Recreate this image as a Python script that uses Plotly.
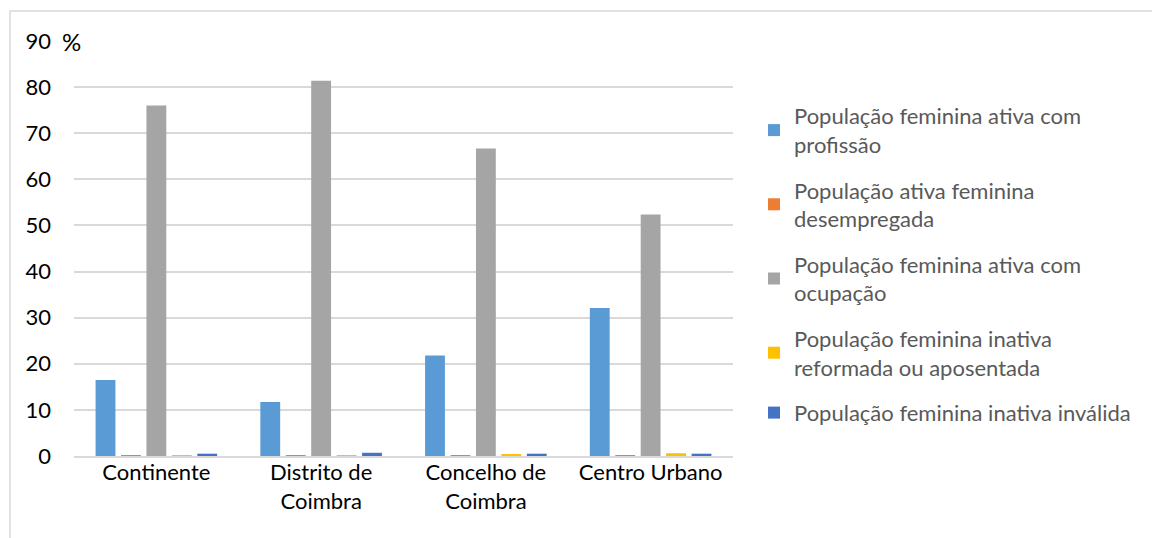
import plotly.graph_objects as go

# Categories (regions) and the share (%) of each female population group
regioes = ["Continente", "Distrito de<br>Coimbra", "Concelho de<br>Coimbra", "Centro Urbano"]

series_nomes = [
    "População feminina ativa com<br>profissão",
    "População ativa feminina<br>desempregada",
    "População feminina ativa com<br>ocupação",
    "População feminina inativa<br>reformada ou aposentada",
    "População feminina inativa inválida",
]

ativa_profissao = [16.5, 11.7, 21.8, 32.1]
ativa_desempregada = [0.05, 0.05, 0.05, 0.15]
ativa_ocupacao = [76.0, 81.4, 66.7, 52.4]
inativa_reformada = [0.15, 0.15, 0.4, 0.6]
inativa_invalida = [0.5, 0.7, 0.5, 0.5]

valores = [ativa_profissao, ativa_desempregada, ativa_ocupacao,
           inativa_reformada, inativa_invalida]
cores = ["#5B9BD5", "#ED7D31", "#A5A5A5", "#FFC000", "#4472C4"]

y_ticks = [0, 10, 20, 30, 40, 50, 60, 70, 80, 90]

FONT = "Lato, Carlito, Calibri, sans-serif"
FS = 22

fig = go.Figure()
for i, (nome, vals, cor) in enumerate(zip(series_nomes, valores, cores)):
    fig.add_trace(go.Bar(
        name=nome,
        x=regioes,
        y=vals,
        marker=dict(color=cor, line=dict(width=0)),
        legendgroup=f"g{i}",
    ))

W, H = 1152, 538
L, R, T, B = 74, W - 733, 41, H - 456
pw, ph = W - L - R, H - T - B

fig.update_layout(
    width=W,
    height=H,
    margin=dict(l=L, r=R, t=T, b=B, pad=0),
    paper_bgcolor="white",
    plot_bgcolor="white",
    barmode="group",
    bargap=0.228,
    bargroupgap=0.22,
    font=dict(family=FONT, size=FS, color="#262626"),
    showlegend=True,
    legend=dict(
        x=(754 - L) / pw,
        y=(456 - 95) / ph,
        xanchor="left",
        yanchor="top",
        traceorder="grouped",
        tracegroupgap=14,
        font=dict(family=FONT, size=FS, color="#595959"),
        itemwidth=30,
        bgcolor="rgba(0,0,0,0)",
    ),
    xaxis=dict(
        showgrid=False,
        showline=True,
        linecolor="#D9D9D9",
        linewidth=1.5,
        ticks="",
        ticklabelstandoff=-4,
        tickfont=dict(family=FONT, size=FS, color="#000000"),
        fixedrange=True,
    ),
    yaxis=dict(
        range=[0, 90],
        tickvals=y_ticks,
        ticktext=[str(v) for v in y_ticks],
        showgrid=True,
        gridcolor="#D9D9D9",
        gridwidth=1.5,
        zeroline=False,
        showline=False,
        ticks="",
        ticklabelstandoff=22,
        tickfont=dict(family=FONT, size=FS, color="#000000"),
        fixedrange=True,
    ),
    shapes=[
        # light frame around the chart area
        dict(
            type="rect", xref="paper", yref="paper",
            x0=(10 - L) / pw, x1=(1170 - L) / pw,
            y0=(456 - 560) / ph, y1=(456 - 11) / ph,
            line=dict(color="#D9D9D9", width=1.5),
            fillcolor="rgba(0,0,0,0)",
            layer="below",
        ),
    ],
    annotations=[
        dict(
            text="%", xref="paper", yref="y",
            x=(60 - L) / pw, y=90,
            xanchor="left", yanchor="middle",
            showarrow=False,
            font=dict(family=FONT, size=FS + 2, color="#000000"),
        ),
    ],
)

fig.write_html("out.html")
